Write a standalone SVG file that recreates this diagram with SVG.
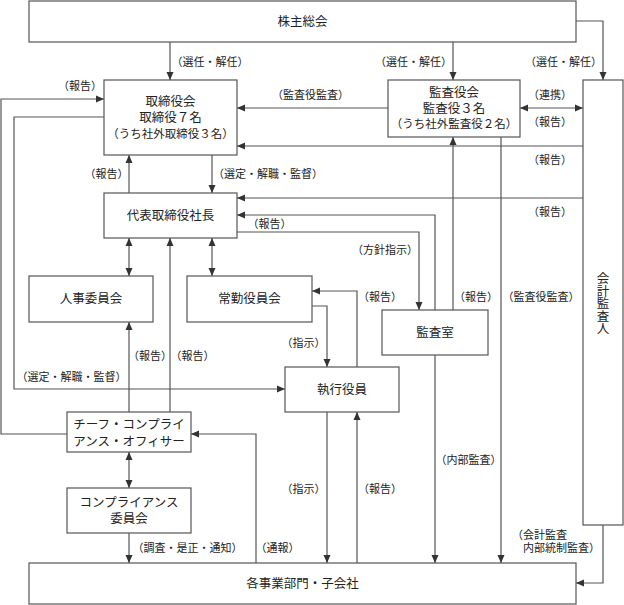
<svg xmlns="http://www.w3.org/2000/svg" width="624" height="605" viewBox="0 0 624 605">
<defs>
<marker id="ah" viewBox="0 0 8 8" refX="8" refY="4" markerWidth="8" markerHeight="8" markerUnits="userSpaceOnUse" orient="auto-start-reverse">
<path d="M0,0.5 L8,4 L0,7.5 Z" fill="#333"/>
</marker>
<style>
.box{fill:#fff;stroke:#555;stroke-width:1.2}
.nt{font-family:"Noto Sans CJK JP","Noto Sans",sans-serif;font-size:12.5px;fill:#222;text-anchor:middle}
.lb{font-family:"Noto Sans CJK JP","Noto Sans",sans-serif;font-size:11px;fill:#222;text-anchor:middle}
.ln{fill:none;stroke:#555;stroke-width:1.2}
.a{marker-end:url(#ah)}
.d{marker-start:url(#ah);marker-end:url(#ah)}
</style>
</defs>
<rect width="624" height="605" fill="#fff"/>
<g id="connectors">
<path class="ln a" d="M170,42 V80"/>
<path class="ln a" d="M453,42 V80"/>
<path class="ln a" d="M576,21 H603 V80"/>
<path class="ln a" d="M388,108 H237"/>
<path class="ln d" d="M520,108 H583"/>
<path class="ln a" d="M583,146 H237"/>
<path class="ln a" d="M583,198 H237"/>
<path class="ln a" d="M212,155 V193"/>
<path class="ln a" d="M129,193 V155"/>
<path class="ln a" d="M67,434 H1 V99 H104"/>
<path class="ln a" d="M104,117 H14 V389 H285"/>
<path class="ln d" d="M129,238 V276"/>
<path class="ln d" d="M212,238 V276"/>
<path class="ln a" d="M129,412 V322"/>
<path class="ln a" d="M170,412 V238"/>
<path class="ln a" d="M435,310 V215 H237"/>
<path class="ln a" d="M237,232 H419 V310"/>
<path class="ln a" d="M453,310 V137"/>
<path class="ln a" d="M501,137 V563"/>
<path class="ln a" d="M435,355 V563"/>
<path class="ln a" d="M603,525 V583 H576"/>
<path class="ln a" d="M312,306 H327 V367"/>
<path class="ln a" d="M357,367 V291 H312"/>
<path class="ln a" d="M327,412 V563"/>
<path class="ln a" d="M357,563 V412"/>
<path class="ln a" d="M256,563 V434 H191"/>
<path class="ln d" d="M129,452 V488"/>
<path class="ln a" d="M129,533 V563"/>
</g>
<g id="labels">
<text class="lb" x="210" y="66">（選任・解任）</text>
<text class="lb" x="413.5" y="66">（選任・解任）</text>
<text class="lb" x="563.5" y="66">（選任・解任）</text>
<text class="lb" x="80" y="90">（報告）</text>
<text class="lb" x="310.5" y="99">（監査役監査）</text>
<text class="lb" x="550" y="99">（連携）</text>
<text class="lb" x="550" y="126">（報告）</text>
<text class="lb" x="550" y="164">（報告）</text>
<text class="lb" x="106.5" y="178">（報告）</text>
<text class="lb" x="268" y="178">（選定・解職・監督）</text>
<text class="lb" x="550" y="216">（報告）</text>
<text class="lb" x="269.5" y="228">（報告）</text>
<text class="lb" x="385" y="254">（方針指示）</text>
<text class="lb" x="380" y="301">（報告）</text>
<text class="lb" x="476" y="301">（報告）</text>
<text class="lb" x="541" y="301">（監査役監査）</text>
<text class="lb" x="303.5" y="347">（指示）</text>
<text class="lb" x="150" y="360">（報告）</text>
<text class="lb" x="192.5" y="360">（報告）</text>
<text class="lb" x="71.5" y="381">（選定・解職・監督）</text>
<text class="lb" x="468.5" y="464">（内部監査）</text>
<text class="lb" x="303.5" y="493">（指示）</text>
<text class="lb" x="380" y="493">（報告）</text>
<text class="lb" style="text-anchor:start"><tspan x="512" y="539">（会計監査</tspan><tspan x="523" y="552">内部統制監査）</tspan></text>
<text class="lb" x="187.5" y="552">（調査・是正・通知）</text>
<text class="lb" x="277.5" y="552">（通報）</text>
</g>
<g id="n_kabunushi"><rect class="box" x="29" y="1" width="547" height="41"/><text class="nt" x="302.5" y="26">株主総会</text></g>
<g id="n_torishimariyakukai"><rect class="box" x="104" y="80" width="133" height="75"/>
<text class="nt"><tspan x="170.5" y="106">取締役会</tspan><tspan x="170.5" y="122">取締役７名</tspan><tspan x="170.5" y="138" style="font-size:11.5px">（うち社外取締役３名）</tspan></text></g>
<g id="n_kansayakukai"><rect class="box" x="388" y="80" width="132" height="57"/>
<text class="nt"><tspan x="454" y="97">監査役会</tspan><tspan x="454" y="113">監査役３名</tspan><tspan x="454" y="128" style="font-size:11.5px">（うち社外監査役２名）</tspan></text></g>
<g id="n_kaikeikansanin"><rect class="box" x="583" y="80" width="40" height="445"/>
<text class="nt" x="603" y="272" writing-mode="vertical-rl" style="text-anchor:start">会計監査人</text></g>
<g id="n_shacho"><rect class="box" x="104" y="193" width="133" height="45"/><text class="nt" x="170.5" y="220">代表取締役社長</text></g>
<g id="n_jinji"><rect class="box" x="29" y="276" width="124" height="46"/><text class="nt" x="91" y="303">人事委員会</text></g>
<g id="n_jokin"><rect class="box" x="187" y="276" width="125" height="46"/><text class="nt" x="249.5" y="303">常勤役員会</text></g>
<g id="n_kansashitsu"><rect class="box" x="382" y="310" width="106" height="45"/><text class="nt" x="435" y="337">監査室</text></g>
<g id="n_shikko"><rect class="box" x="285" y="367" width="114" height="45"/><text class="nt" x="342" y="394">執行役員</text></g>
<g id="n_cco"><rect class="box" x="67" y="412" width="124" height="40"/><text class="nt"><tspan x="129" y="429">チーフ・コンプライ</tspan><tspan x="129" y="446">アンス・オフィサー</tspan></text></g>
<g id="n_compliance"><rect class="box" x="67" y="488" width="124" height="45"/><text class="nt"><tspan x="129" y="507">コンプライアンス</tspan><tspan x="129" y="523">委員会</tspan></text></g>
<g id="n_jigyobu"><rect class="box" x="29" y="563" width="547" height="41"/><text class="nt" x="302.5" y="588">各事業部門・子会社</text></g>
</svg>
